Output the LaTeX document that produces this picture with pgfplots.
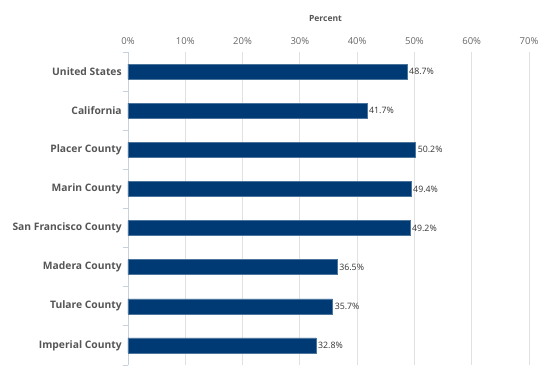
\documentclass[border=0pt]{standalone}
\usepackage{pgfplots}
\pgfplotsset{compat=1.18}
\usepackage{fontspec}
\setmainfont{Open Sans}
\definecolor{barblue}{RGB}{0,58,117}
\definecolor{gridgray}{RGB}{225,225,225}
\definecolor{axgray}{RGB}{200,208,220}
\definecolor{labgray}{RGB}{85,85,85}
\definecolor{tickgray}{RGB}{102,102,102}
\begin{document}
\begin{tikzpicture}[x=1pt,y=1pt]
\path[use as bounding box] (0,0) rectangle (550,374);
\begin{axis}[
  at={(128pt,9pt)}, anchor=south west,
  scale only axis, width=401pt, height=313pt,
  xbar, bar width=15pt,
  xmin=0, xmax=70,
  ymin=-0.5, ymax=7.5, y dir=reverse,
  axis x line*=top,
  axis y line*=left,
  x axis line style={draw=none},
  y axis line style={draw=axgray, line width=0.8pt},
  xtick={0,10,...,70},
  xticklabel={\pgfmathprintnumber{\tick}\%},
  xticklabel style={font=\fontsize{9.5}{10}\selectfont, text=tickgray},
  xtick style={draw=none},
  xmajorgrids, grid style={draw=gridgray, line width=0.8pt},
  xlabel={Percent},
  xlabel style={font=\bfseries\fontsize{8.5}{9}\selectfont, text=labgray, yshift=9pt, xshift=-3pt},
  ytick={0,...,7},
  yticklabels={United States,California,Placer County,Marin County,San Francisco County,Madera County,Tulare County,Imperial County},
  yticklabel style={font=\bfseries\fontsize{10.3}{11}\selectfont, text=labgray, xshift=1.5pt},
  major y tick style={draw=none},
  minor ytick={-0.5,0.5,...,7.5},
  minor y tick style={draw=axgray, line width=0.8pt},
  minor tick length=5pt,
  tick align=outside,
  /pgf/number format/assume math mode=true,
  point meta=explicit,
  nodes near coords={\pgfmathprintnumber[fixed,precision=1,fixed zerofill]{\pgfplotspointmeta}\%},
  every node near coord/.style={anchor=west, font=\fontsize{8.8}{9}\selectfont, text=black!80, inner sep=2pt},
  clip=false,
]
\addplot[fill=barblue, draw=barblue!70!white, line width=0.5pt] coordinates {
  (48.7,0) [48.7]
  (41.7,1) [41.7]
  (50.2,2) [50.2]
  (49.4,3) [49.4]
  (49.2,4) [49.2]
  (36.5,5) [36.5]
  (35.7,6) [35.7]
  (32.8,7) [32.8]
};
\end{axis}
\end{tikzpicture}
\end{document}
